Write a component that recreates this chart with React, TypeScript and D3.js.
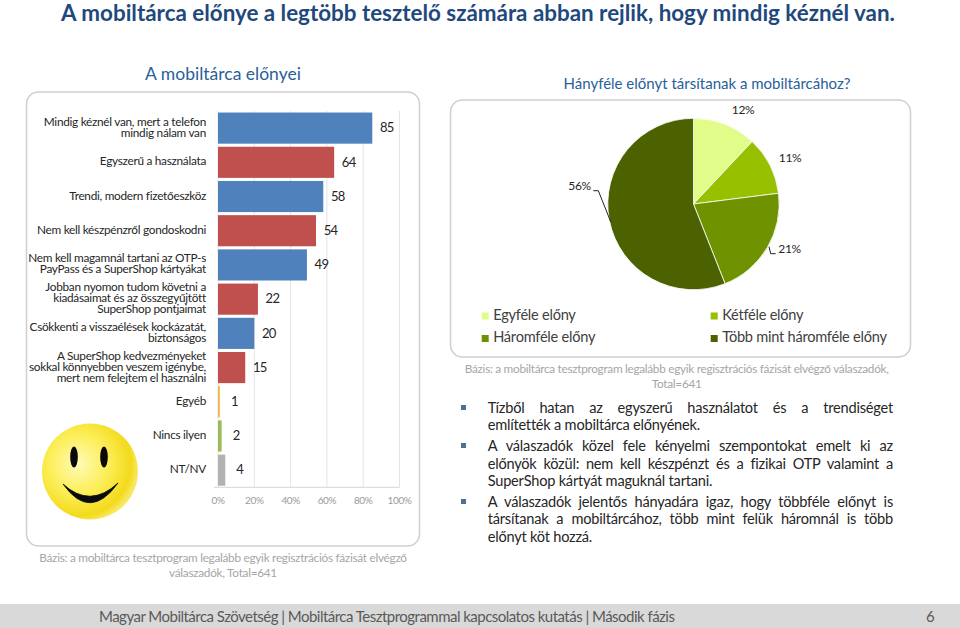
import React, { useLayoutEffect, useRef } from "react";
import * as d3 from "d3";

const barLabels: string[][] = [
  ["Mindig kéznél van, mert a telefon", "mindig nálam van"],
  ["Egyszerű a használata"],
  ["Trendi, modern fizetőeszköz"],
  ["Nem kell készpénzről gondoskodni"],
  ["Nem kell magamnál tartani az OTP-s", "PayPass és a SuperShop kártyákat"],
  ["Jobban nyomon tudom követni a", "kiadásaimat és az összegyűjtött", "SuperShop pontjaimat"],
  ["Csökkenti a visszaélések kockázatát,", "biztonságos"],
  ["A SuperShop kedvezményeket", "sokkal könnyebben veszem igénybe,", "mert nem felejtem el használni"],
  ["Egyéb"],
  ["Nincs ilyen"],
  ["NT/NV"],
];
const barValues = [85, 64, 58, 54, 49, 22, 20, 15, 1, 2, 4];
const barColors = ["#4F81BD", "#C0504D", "#4F81BD", "#C0504D", "#4F81BD", "#C0504D", "#4F81BD", "#C0504D", "#F2B63C", "#9BBB59", "#B2B2B2"];
const xTicks = [0, 20, 40, 60, 80, 100];

const pieLabels = ["Egyféle előny", "Kétféle előny", "Háromféle előny", "Több mint háromféle előny"];
const pieValues = [12, 11, 21, 56];
const pieColors = ["#E2FC8A", "#97C000", "#6F9300", "#4C6100"];

const bullets: string[][] = [
  ["Tízből hatan az egyszerű használatot és a trendiséget", "említették a mobiltárca előnyének."],
  ["A válaszadók közel fele kényelmi szempontokat emelt ki az", "előnyök közül: nem kell készpénzt és a fizikai OTP valamint a", "SuperShop kártyát maguknál tartani."],
  ["A válaszadók jelentős hányadára igaz, hogy többféle előnyt is", "társítanak a mobiltárcához, több mint felük háromnál is több", "előnyt köt hozzá."],
];

const FONT = "Lato, 'Open Sans', sans-serif";

function Justified({ x, y, width, text, justify, size }: { x: number; y: number; width: number; text: string; justify: boolean; size: number }) {
  const ref = useRef<SVGTextElement>(null);
  useLayoutEffect(() => {
    const el = ref.current;
    if (!el || !justify) return;
    const gaps = text.split(" ").length - 1;
    el.style.wordSpacing = "0px";
    const w = el.getComputedTextLength();
    el.style.wordSpacing = `${(width - w) / gaps}px`;
  }, [text, justify, width]);
  return <text ref={ref} x={x} y={y} fontSize={size} letterSpacing={-0.22} fill="#262626" dominantBaseline="middle">{text}</text>;
}

export default function App() {
  const x = d3.scaleLinear().domain([0, 100]).range([218, 399.5]);
  const y = d3.scaleBand<number>().domain(d3.range(barValues.length)).range([111, 487.3]).paddingInner(0.09).paddingOuter(0.045);
  const arcs = d3.pie<number>().sort(null)(pieValues);
  const arc = d3.arc<d3.PieArcDatum<number>>().innerRadius(0).outerRadius(85.7);
  const bulletLineYs = [[409, 426], [447, 465, 482.7], [503, 520.7, 538]];

  return (
    <svg width={960} height={628} style={{ position: "absolute", left: 0, top: 0, background: "#fff" }} fontFamily={FONT}>
      <defs>
        <radialGradient id="face" cx="38%" cy="42%" r="62%">
          <stop offset="0%" stopColor="#FFFBB8" />
          <stop offset="50%" stopColor="#FCEE58" />
          <stop offset="88%" stopColor="#F3DA1C" />
          <stop offset="100%" stopColor="#F8E860" />
        </radialGradient>
      </defs>
      <text x={478} y={15} textAnchor="middle" dominantBaseline="middle" fontSize={22.4} fontWeight={700} fill="#1F497D">
        A mobiltárca előnye a legtöbb tesztelő számára abban rejlik, hogy mindig kéznél van.
      </text>
      <text x={223} y={76} textAnchor="middle" dominantBaseline="middle" fontSize={17.5} fill="#2A6099">A mobiltárca előnyei</text>
      <text x={707} y={85.5} textAnchor="middle" dominantBaseline="middle" fontSize={15} fill="#2A6099">Hányféle előnyt társítanak a mobiltárcához?</text>

      <rect x={26.5} y={92} width={393} height={454} rx={12} fill="none" stroke="#CFCFCF" strokeWidth={1.5} />
      <rect x={450.5} y={100} width={460} height={257} rx={12} fill="none" stroke="#CFCFCF" strokeWidth={1.5} />

      {xTicks.map((t) => (
        <g key={t}>
          <line x1={x(t)} x2={x(t)} y1={111} y2={487.3} stroke="#E4E4E4" />
          <text x={x(t)} y={501} textAnchor="middle" dominantBaseline="middle" fontSize={10} letterSpacing={-0.4} fill="#9A9A9A">{t}%</text>
        </g>
      ))}
      <line x1={214} x2={x(100)} y1={487.3} y2={487.3} stroke="#D5D5D5" />
      {barValues.map((v, i) => (
        <g key={i}>
          <rect x={x(0)} y={y(i)!} width={x(v) - x(0)} height={y.bandwidth()} fill={barColors[i]} />
          <text x={x(v) + 14.5} y={y(i)! + y.bandwidth() / 2 + 1} textAnchor="middle" dominantBaseline="middle" fontSize={13} letterSpacing={-0.7} fill="#262626">{v}</text>
          {barLabels[i].map((l, j) => (
            <text key={j} x={206} y={y(i)! + y.bandwidth() / 2 + (j - (barLabels[i].length - 1) / 2) * 11} textAnchor="end" dominantBaseline="middle" fontSize={11.8} letterSpacing={-0.28} fill="#262626">{l}</text>
          ))}
        </g>
      ))}

      <g>
        <circle cx={90} cy={471.5} r={48} fill="url(#face)" />
        <ellipse cx={74} cy={457} rx={3.8} ry={10.5} fill="#0A0A0A" />
        <ellipse cx={104} cy={457} rx={3.8} ry={10.5} fill="#0A0A0A" />
        <path d="M63,484 Q90,522 118,483 Q90,509 63,484 Z" fill="#0A0A0A" stroke="#0A0A0A" strokeWidth={0.8} />
      </g>

      <text textAnchor="middle" fontSize={11.8} letterSpacing={-0.28} fill="#A6A6A6">
        <tspan x={223} y={562}>Bázis: a mobiltárca tesztprogram legalább egyik regisztrációs fázisát elvégző</tspan>
        <tspan x={223} y={577}>válaszadók, Total=641</tspan>
      </text>

      <g transform="translate(693.5,204)">
        {arcs.map((d, i) => (
          <path key={i} d={arc(d)!} fill={pieColors[i]} stroke="#fff" strokeWidth={0.8} />
        ))}
      </g>
      {(["12%", "11%", "56%", "21%"] as string[]).map((t, i) => (
        <text key={t} x={[743, 790, 579.5, 789.5][i]} y={[111, 159, 186.7, 250][i]} textAnchor="middle" dominantBaseline="middle" fontSize={12} letterSpacing={-0.4} fill="#262626">{t}</text>
      ))}
      <path d="M593.3,190.7H598.3L610.7,221.7" fill="none" stroke="#222" />
      <path d="M769,246.7L770.7,253.7H775.7" fill="none" stroke="#222" />

      {pieLabels.map((l, i) => {
        const lx = i % 2 === 0 ? 481.7 : 710.7;
        const ly = i < 2 ? 316 : 338.5;
        return (
          <g key={l}>
            <rect x={lx} y={ly - 3.5} width={7} height={7} fill={pieColors[i]} />
            <text x={lx + 11.5} y={ly} dominantBaseline="middle" fontSize={14.6} letterSpacing={-0.25} fill="#404040">{l}</text>
          </g>
        );
      })}

      <text textAnchor="middle" fontSize={11.8} letterSpacing={-0.3} fill="#A6A6A6">
        <tspan x={676.7} y={373}>Bázis: a mobiltárca tesztprogram legalább egyik regisztrációs fázisát elvégző válaszadók,</tspan>
        <tspan x={676.7} y={387.5}>Total=641</tspan>
      </text>

      {bullets.map((lines, i) => (
        <g key={i}>
          <rect x={461} y={bulletLineYs[i][0] - 4} width={5} height={5} fill="#4F6F94" />
          {lines.map((l, j) => (
            <Justified key={j} x={487.7} y={bulletLineYs[i][j]} width={405.3} text={l} justify={j < lines.length - 1} size={14.6} />
          ))}
        </g>
      ))}

      <rect x={0} y={604} width={960} height={24} fill="#D9D9D9" />
      <text x={99} y={618.5} dominantBaseline="middle" fontSize={15} letterSpacing={-0.52} fill="#595959">Magyar Mobiltárca Szövetség | Mobiltárca Tesztprogrammal kapcsolatos kutatás | Második fázis</text>
      <text x={926} y={618.5} dominantBaseline="middle" fontSize={15} fill="#595959">6</text>
    </svg>
  );
}
